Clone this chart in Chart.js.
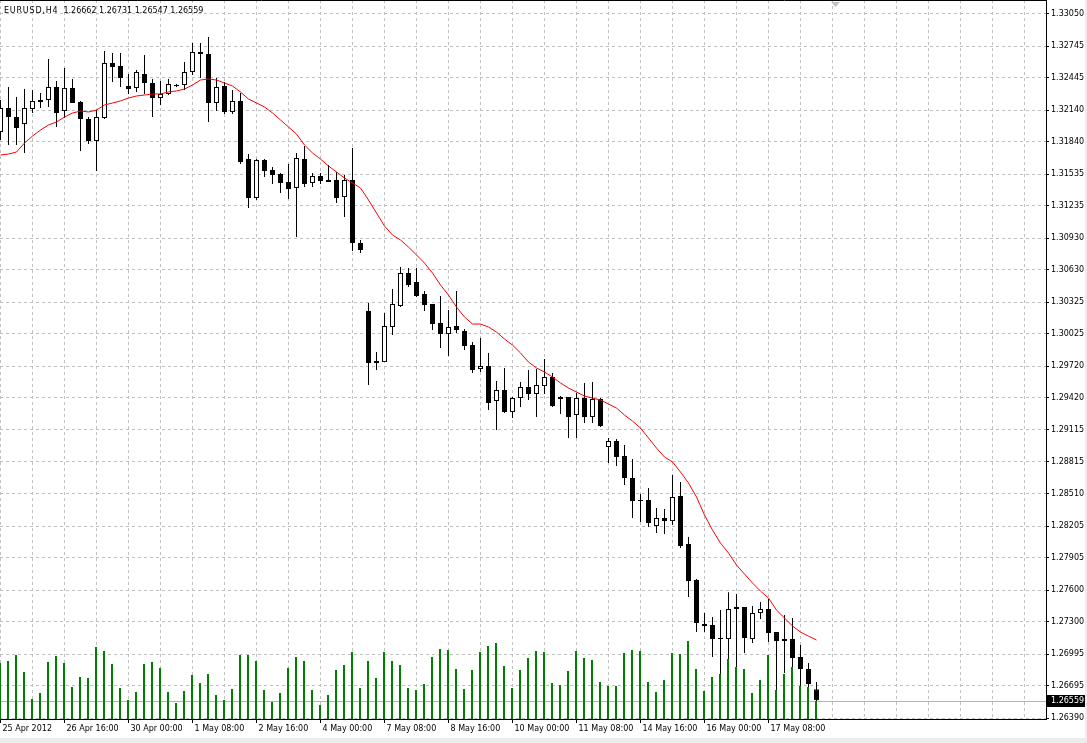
<!DOCTYPE html>
<html>
<head>
<meta charset="utf-8">
<title>EURUSD,H4</title>
<script src="https://cdn.jsdelivr.net/npm/chart.js@4.4.1/dist/chart.umd.min.js"></script>
<style>
  html, body { margin: 0; padding: 0; background: #ececec; }
  #wrap { position: relative; width: 1085px; height: 738px; background: #ffffff; }
  canvas { display: block; }
</style>
</head>
<body>
<div id="wrap"><canvas id="chart-eurusd" width="1085" height="738"></canvas></div>
<script>
const SYMBOL = 'EURUSD';
const PERIOD = 'H4';

// ===== H4 bars (oldest first) =====
const opens = [
  1.31933, 1.32160, 1.32075, 1.32009, 1.32151, 1.32236, 1.32236, 1.32359, 1.32132, 1.32350,
  1.32217, 1.32056, 1.31848, 1.32066, 1.32586, 1.32558, 1.32368, 1.32350, 1.32482, 1.32397,
  1.32255, 1.32293, 1.32378, 1.32378, 1.32501, 1.32690, 1.32671, 1.32208, 1.32368, 1.32123,
  1.32227, 1.31678, 1.31309, 1.31668, 1.31574, 1.31536, 1.31460, 1.31404, 1.31678, 1.31451,
  1.31517, 1.31479, 1.31479, 1.31318, 1.31479, 1.30883, 1.30240, 1.29767, 1.29757, 1.30089,
  1.30287, 1.30599, 1.30514, 1.30401, 1.30306, 1.30126, 1.30022, 1.30098, 1.30051, 1.29918,
  1.29691, 1.29720, 1.29389, 1.29493, 1.29284, 1.29417, 1.29521, 1.29455, 1.29530, 1.29616,
  1.29407, 1.29426, 1.29256, 1.29417, 1.29237, 1.29407, 1.28953, 1.29010, 1.28868, 1.28660,
  1.28452, 1.28452, 1.28206, 1.28282, 1.28253, 1.28490, 1.28036, 1.27695, 1.27279, 1.27270,
  1.27147, 1.27137, 1.27421, 1.27440, 1.27137, 1.27383, 1.27421, 1.27203, 1.27118, 1.27137,
  1.26967, 1.26853, 1.26662
];
const highs = [
  1.32236, 1.32359, 1.32264, 1.32340, 1.32331, 1.32302, 1.32624, 1.32416, 1.32539, 1.32435,
  1.32227, 1.32075, 1.32141, 1.32700, 1.32681, 1.32681, 1.32482, 1.32520, 1.32662, 1.32435,
  1.32416, 1.32435, 1.32387, 1.32596, 1.32775, 1.32775, 1.32832, 1.32444, 1.32406, 1.32331,
  1.32302, 1.31725, 1.31678, 1.31678, 1.31602, 1.31546, 1.31631, 1.31735, 1.31801, 1.31546,
  1.31546, 1.31621, 1.31555, 1.31527, 1.31782, 1.30912, 1.30316, 1.29852, 1.30221, 1.30448,
  1.30656, 1.30647, 1.30647, 1.30429, 1.30306, 1.30382, 1.30249, 1.30429, 1.30070, 1.29947,
  1.29985, 1.29843, 1.29578, 1.29701, 1.29426, 1.29568, 1.29682, 1.29691, 1.29786, 1.29653,
  1.29436, 1.29426, 1.29464, 1.29559, 1.29568, 1.29417, 1.29039, 1.29029, 1.28972, 1.28840,
  1.28509, 1.28566, 1.28376, 1.28367, 1.28689, 1.28622, 1.28102, 1.27705, 1.27383, 1.27345,
  1.27411, 1.27581, 1.27563, 1.27440, 1.27449, 1.27487, 1.27515, 1.27203, 1.27364, 1.27336,
  1.27080, 1.26910, 1.26731
];
const lows = [
  1.31858, 1.31810, 1.31810, 1.31735, 1.32113, 1.32160, 1.32170, 1.31981, 1.32066, 1.32208,
  1.31754, 1.31820, 1.31564, 1.32056, 1.32406, 1.32359, 1.32293, 1.32312, 1.32293, 1.32075,
  1.32189, 1.32283, 1.32359, 1.32331, 1.32473, 1.32444, 1.32028, 1.32132, 1.32104, 1.32104,
  1.31631, 1.31214, 1.31290, 1.31508, 1.31441, 1.31356, 1.31300, 1.30940, 1.31413, 1.31413,
  1.31441, 1.31460, 1.31262, 1.31129, 1.30808, 1.30789, 1.29540, 1.29682, 1.29757, 1.30013,
  1.30278, 1.30467, 1.30372, 1.30240, 1.30060, 1.29890, 1.29814, 1.30032, 1.29871, 1.29653,
  1.29663, 1.29303, 1.29114, 1.29275, 1.29228, 1.29332, 1.29398, 1.29237, 1.29455, 1.29332,
  1.29266, 1.29039, 1.29039, 1.29180, 1.29180, 1.29143, 1.28802, 1.28774, 1.28594, 1.28282,
  1.28244, 1.28197, 1.28140, 1.28130, 1.28216, 1.27998, 1.27534, 1.27203, 1.27203, 1.26967,
  1.26797, 1.26891, 1.26872, 1.27005, 1.27099, 1.27326, 1.27109, 1.26655, 1.26816, 1.26872,
  1.26636, 1.26683, 1.26547
];
const closes = [
  1.32160, 1.32075, 1.31971, 1.32160, 1.32227, 1.32217, 1.32359, 1.32113, 1.32350, 1.32208,
  1.32056, 1.31848, 1.32075, 1.32586, 1.32548, 1.32444, 1.32340, 1.32501, 1.32397, 1.32255,
  1.32293, 1.32387, 1.32368, 1.32501, 1.32690, 1.32671, 1.32208, 1.32359, 1.32123, 1.32227,
  1.31650, 1.31309, 1.31668, 1.31564, 1.31527, 1.31451, 1.31394, 1.31687, 1.31441, 1.31517,
  1.31470, 1.31460, 1.31309, 1.31479, 1.30883, 1.30817, 1.29748, 1.29748, 1.30098, 1.30306,
  1.30599, 1.30486, 1.30382, 1.30297, 1.30117, 1.30022, 1.30089, 1.30060, 1.29909, 1.29682,
  1.29720, 1.29370, 1.29493, 1.29284, 1.29417, 1.29521, 1.29455, 1.29540, 1.29616, 1.29341,
  1.29426, 1.29237, 1.29417, 1.29237, 1.29407, 1.29152, 1.29010, 1.28859, 1.28660, 1.28443,
  1.28443, 1.28234, 1.28282, 1.28253, 1.28481, 1.28017, 1.27686, 1.27288, 1.27260, 1.27137,
  1.27137, 1.27421, 1.27440, 1.27147, 1.27383, 1.27421, 1.27194, 1.27118, 1.27137, 1.26957,
  1.26853, 1.26711, 1.26559
];

// red moving average, as drawn
const maValues = [
  1.31716, 1.31725, 1.31744, 1.31829, 1.31895, 1.31952, 1.32000, 1.32028, 1.32075, 1.32113,
  1.32132, 1.32123, 1.32141, 1.32189, 1.32208, 1.32227, 1.32255, 1.32274, 1.32283, 1.32293,
  1.32293, 1.32312, 1.32321, 1.32340, 1.32378, 1.32425, 1.32435, 1.32425, 1.32397, 1.32368,
  1.32312, 1.32245, 1.32208, 1.32170, 1.32113, 1.32047, 1.31981, 1.31914, 1.31810, 1.31735,
  1.31678, 1.31612, 1.31555, 1.31498, 1.31451, 1.31404, 1.31290, 1.31167, 1.31044, 1.30959,
  1.30912, 1.30845, 1.30770, 1.30694, 1.30599, 1.30486, 1.30391, 1.30278, 1.30183, 1.30117,
  1.30117, 1.30089, 1.30041, 1.29975, 1.29918, 1.29843, 1.29757, 1.29701, 1.29663, 1.29616,
  1.29559, 1.29512, 1.29474, 1.29436, 1.29417, 1.29398, 1.29360, 1.29322, 1.29256, 1.29199,
  1.29133, 1.29039, 1.28944, 1.28859, 1.28812, 1.28717, 1.28613, 1.28481, 1.28310, 1.28168,
  1.28045, 1.27951, 1.27837, 1.27752, 1.27667, 1.27591, 1.27525, 1.27411, 1.27336, 1.27260,
  1.27203, 1.27165, 1.27128
];

// tick volumes (green histogram)
const volumes = [
  2800, 2900, 3200, 2350, 1000, 1300, 2850, 3150, 2800, 1600,
  2100, 2050, 3600, 3400, 2750, 1550, 950, 1350, 2750, 2850,
  2550, 1350, 800, 1400, 2200, 1800, 2250, 1200, 950, 1500,
  3200, 3200, 2900, 1450, 850, 1300, 2550, 3100, 2900, 1450,
  700, 1200, 2450, 2700, 3350, 1550, 2900, 2050, 3350, 2900,
  2700, 1550, 1450, 1750, 3100, 3500, 3450, 2500, 1500, 2450,
  3350, 3650, 3800, 2650, 1550, 2450, 3050, 3400, 3350, 1800,
  1700, 2400, 3400, 3050, 2950, 1850, 1650, 1650, 3300, 3450,
  3400, 1850, 1350, 1950, 3300, 3250, 3900, 2500, 1400, 2100,
  2250, 3000, 2600, 2500, 1300, 1950, 3200, 1450, 2250, 2600,
  1650, 1600, 900
];

// time axis labels, one every 8 bars
const dateLabels = [
  '25 Apr 2012', '26 Apr 16:00', '30 Apr 00:00', '1 May 08:00', '2 May 16:00', '4 May 00:00',
  '7 May 08:00', '8 May 16:00', '10 May 00:00', '11 May 08:00', '14 May 16:00', '16 May 00:00', '17 May 08:00'
];
// price axis labels
const priceTicks = [
  '1.33050', '1.32745', '1.32445', '1.32140', '1.31840', '1.31535', '1.31235', '1.30930',
  '1.30630', '1.30325', '1.30025', '1.29720', '1.29420', '1.29115', '1.28815', '1.28510',
  '1.28205', '1.27905', '1.27600', '1.27300', '1.26995', '1.26695', '1.26390'
];

const PRICE_MIN = 1.26381;
const PRICE_MAX = 1.33182;
const VOLUME_MAX = 35950;
const BARS_IN_VIEW = 130.75;
const LABEL_EVERY = 8;
const GRID_EVERY = 4;
const SHIFT_MARK_BAR = 104.3;

const FONT = { family: 'DejaVu Sans', size: 8 };
const GRID_COLOR = '#c0c0c0';

const labelAt = (v) => (v % LABEL_EVERY === 0 ? (dateLabels[v / LABEL_EVERY] || '') : '');
const gridBars = [];
for (let v = 0; v <= BARS_IN_VIEW; v += GRID_EVERY) gridBars.push(v);

// ===== MT4 extras: price line, current price box, header, frame =====
const mtOverlay = {
  id: 'mtOverlay',
  beforeDatasetsDraw(chart) {
    const { ctx, chartArea: a, scales } = chart;
    const y = Math.round(scales.y.getPixelForValue(closes[closes.length - 1])) + 1.5;
    ctx.save();
    ctx.strokeStyle = '#b4b4b4';
    ctx.lineWidth = 1;
    ctx.beginPath();
    ctx.moveTo(a.left, y);
    ctx.lineTo(a.right, y);
    ctx.stroke();
    ctx.restore();
  },
  afterDraw(chart) {
    const { ctx, chartArea: a, scales } = chart;
    const n = closes.length - 1;
    ctx.save();
    ctx.strokeStyle = '#000';
    ctx.lineWidth = 1;
    ctx.beginPath();
    ctx.moveTo(a.left, a.top + 0.5);
    ctx.lineTo(a.right, a.top + 0.5);
    ctx.stroke();

    // header: symbol,period and OHLC of the last bar
    ctx.font = `${FONT.size}px "${FONT.family}"`;
    ctx.fillStyle = '#000';
    ctx.textAlign = 'left';
    ctx.textBaseline = 'alphabetic';
    const head = `${SYMBOL},${PERIOD}`;
    ctx.letterSpacing = '0.8px';
    ctx.fillText(head, a.left + 4, a.top + 13);
    const headW = ctx.measureText(head).width;
    ctx.letterSpacing = '0px';
    const ohlc = [opens[n], highs[n], lows[n], closes[n]].map((v) => v.toFixed(5)).join(' ');
    ctx.fillText(ohlc, a.left + 4 + headW + 5, a.top + 13);

    const y = Math.round(scales.y.getPixelForValue(closes[n])) + 1;
    ctx.fillRect(a.right + 1, y - 6, 38, 12);
    ctx.fillStyle = '#fff';
    ctx.textBaseline = 'middle';
    ctx.fillText(closes[n].toFixed(5), a.right + 5, y);

    const sx = Math.round(scales.x.getPixelForValue(SHIFT_MARK_BAR));
    ctx.fillStyle = '#c0c0c0';
    ctx.beginPath();
    ctx.moveTo(sx - 4, a.top + 2);
    ctx.lineTo(sx + 5, a.top + 2);
    ctx.lineTo(sx + 0.5, a.top + 7);
    ctx.closePath();
    ctx.fill();
    ctx.restore();
  }
};

Chart.defaults.font.family = FONT.family;

const ctxC = document.getElementById('chart-eurusd');
new Chart(ctxC, {
  type: 'bar',
  data: {
    datasets: [
      {
        type: 'bar',
        label: 'Volumes',
        data: volumes.map((v, i) => ({ x: i, y: v })),
        xAxisID: 'xv',
        yAxisID: 'yv',
        backgroundColor: '#008000',
        barThickness: 2,
        grouped: false,
        inflateAmount: 0,
        order: 0
      },
      {
        type: 'line',
        label: 'MA',
        data: maValues.map((v, i) => ({ x: i, y: v })),
        xAxisID: 'x',
        yAxisID: 'y',
        borderColor: '#ff0000',
        borderWidth: 1,
        pointRadius: 0,
        tension: 0,
        order: 1
      },
      {
        type: 'bar',
        label: 'Body',
        data: opens.map((o, i) => ({ x: i, y: [Math.min(o, closes[i]), Math.max(o, closes[i])] })),
        xAxisID: 'x',
        yAxisID: 'y',
        backgroundColor: opens.map((o, i) => (closes[i] > o ? '#ffffff' : '#000000')),
        borderColor: '#000000',
        borderWidth: 1,
        borderSkipped: false,
        barThickness: 5,
        minBarLength: 1,
        grouped: false,
        inflateAmount: 0,
        order: 2
      },
      {
        type: 'bar',
        label: 'Wick',
        data: lows.map((l, i) => ({ x: i, y: [l, highs[i]] })),
        xAxisID: 'x',
        yAxisID: 'y',
        backgroundColor: '#000000',
        barThickness: 1,
        grouped: false,
        inflateAmount: 0,
        order: 3
      }
    ]
  },
  options: {
    responsive: false,
    animation: false,
    events: [],
    layout: { padding: 0 },
    plugins: {
      legend: { display: false },
      tooltip: { enabled: false }
    },
    scales: {
      x: {
        type: 'linear',
        axis: 'x',
        position: 'bottom',
        min: -0.0625,
        max: BARS_IN_VIEW - 0.0625,
        bounds: 'data',
        offset: false,
        afterBuildTicks: (axis) => { axis.ticks = gridBars.map((v) => ({ value: v })); },
        afterFit: (axis) => { axis.height = 19; axis.paddingLeft = 0; axis.paddingRight = 0; },
        grid: {
          color: GRID_COLOR,
          offset: false,
          tickLength: 4,
          tickColor: (c) => (c.tick && labelAt(c.tick.value) ? '#000000' : 'rgba(0,0,0,0)')
        },
        border: { color: '#000000', width: 1, dash: [3, 3] },
        ticks: {
          autoSkip: false,
          maxRotation: 0,
          minRotation: 0,
          align: 'start',
          labelOffset: 2,
          padding: 1,
          color: '#000000',
          font: FONT,
          callback: (v) => labelAt(v)
        }
      },
      y: {
        type: 'linear',
        axis: 'y',
        position: 'right',
        min: PRICE_MIN,
        max: PRICE_MAX,
        bounds: 'data',
        beginAtZero: false,
        afterBuildTicks: (axis) => { axis.ticks = priceTicks.map((t) => ({ value: parseFloat(t) })); },
        afterFit: (axis) => { axis.width = 39; axis.paddingTop = 0; axis.paddingBottom = 0; },
        grid: { color: GRID_COLOR, tickLength: 3, tickColor: '#000000' },
        border: { color: '#000000', width: 1, dash: [3, 3] },
        ticks: {
          autoSkip: false,
          crossAlign: 'near',
          padding: 2,
          color: '#000000',
          font: FONT,
          callback: (v, i) => priceTicks[i]
        }
      },
      xv: {
        type: 'linear',
        axis: 'x',
        display: false,
        min: 0,
        max: BARS_IN_VIEW,
        bounds: 'data',
        offset: false
      },
      yv: {
        type: 'linear',
        axis: 'y',
        display: false,
        min: 0,
        max: VOLUME_MAX,
        bounds: 'data',
        beginAtZero: true
      }
    }
  },
  plugins: [mtOverlay]
});
</script>
</body>
</html>
